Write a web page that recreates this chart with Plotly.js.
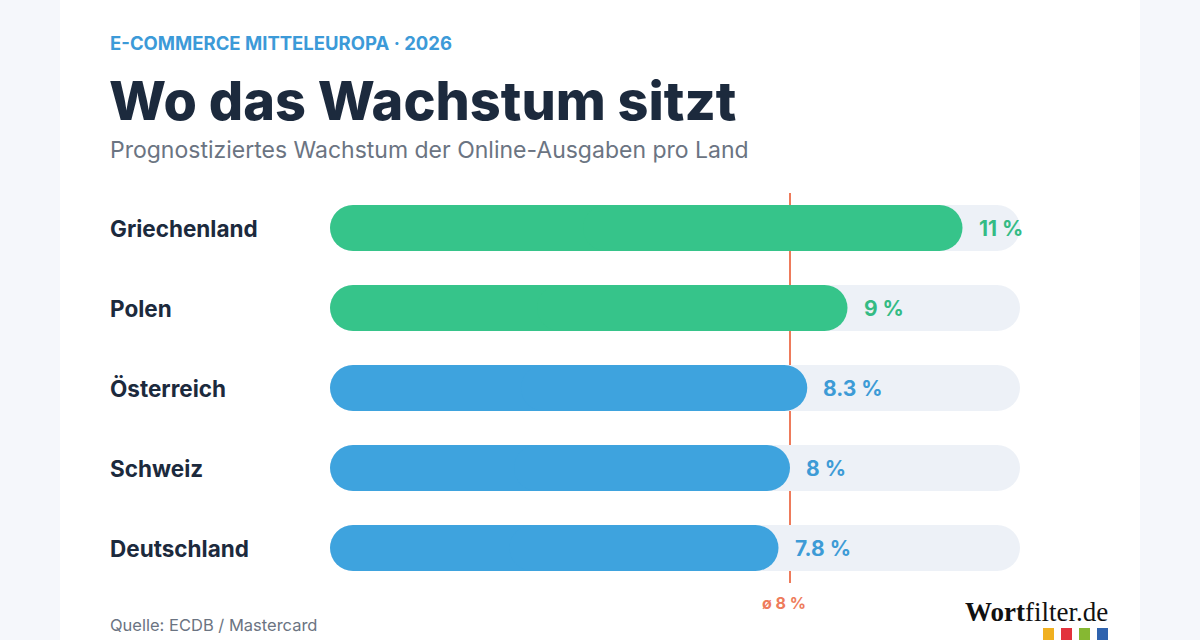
<!DOCTYPE html>
<html lang="de">
<head>
<meta charset="utf-8">
<title>Wo das Wachstum sitzt</title>
<script src="https://cdn.plot.ly/plotly-3.0.1.min.js"></script>
<style>
  html, body { margin: 0; padding: 0; }
  body { width: 1200px; height: 640px; background: #f5f7fb; position: relative; overflow: hidden; }
  #card { position: absolute; left: 60px; top: -14px; width: 1080px; height: 680px; background: #ffffff; border-radius: 16px; }
  #chart { position: absolute; left: 0; top: 0; width: 1200px; height: 640px; }
</style>
</head>
<body>
<div id="card"></div>
<div id="chart"></div>
<script>
// Prognostiziertes Wachstum der Online-Ausgaben 2026 (in %)
const countries = ['Griechenland', 'Polen', 'Österreich', 'Schweiz', 'Deutschland'];
const growth = [11, 9, 8.3, 8, 7.8];
const valueLabels = ['11 %', '9 %', '8.3 %', '8 %', '7.8 %'];
const leaders = ['Griechenland', 'Polen'];
const average = 8;
const averageLabel = 'ø 8 %';
const scaleMax = 12;

const GREEN = '#36c48a';
const BLUE = '#3ea3de';
const TRACK = '#edf1f7';
const INK = '#1c2a3d';
const GREY = '#6b7482';
const ORANGE = '#ee7b5b';
const FONT = 'Inter, "Open Sans", sans-serif';

const barColors = countries.map(c => (leaders.includes(c) ? GREEN : BLUE));
const labelColors = countries.map(c => (leaders.includes(c) ? '#34bb84' : '#3d9bd6'));

// A pill is built from two overlapping halves: each half has its rounded
// corners at its far end, so together both ends are rounded.
function pill(values, colors) {
  const common = {
    type: 'bar', orientation: 'h', y: countries, width: 0.575,
    marker: { color: colors, cornerradius: 23, line: { width: 0 } },
    hoverinfo: 'skip', showlegend: false
  };
  return [
    Object.assign({}, common, { base: values.map(v => v * 0.6), x: values.map(v => -v * 0.6) }),
    Object.assign({}, common, { base: values.map(v => v * 0.4), x: values.map(v => v * 0.6) })
  ];
}

const tracks = pill(countries.map(() => scaleMax), countries.map(() => TRACK));
const bars = pill(growth, barColors);

const LEFT = -222;
const annotations = [];
countries.forEach((c, i) => {
  annotations.push({
    x: 0, xref: 'paper', xshift: LEFT, xanchor: 'left',
    y: c, yref: 'y', yanchor: 'middle',
    text: c, showarrow: false,
    font: { family: FONT, size: 22.5, color: INK, weight: 700 }
  });
  annotations.push({
    x: growth[i], xref: 'x', xshift: 14, xanchor: 'left',
    y: c, yref: 'y', yanchor: 'middle',
    text: valueLabels[i], showarrow: false,
    font: { family: FONT, size: 21, color: labelColors[i], weight: 700 }
  });
});

// Header, footer and logo
annotations.push(
  { x: 0, xref: 'paper', xshift: LEFT, xanchor: 'left', y: 1, yref: 'paper', yshift: 145, yanchor: 'middle',
    text: 'E-COMMERCE MITTELEUROPA · 2026', showarrow: false,
    font: { family: FONT, size: 18.5, color: '#3c9ad8', weight: 700 } },
  { x: 0, xref: 'paper', xshift: LEFT - 1, xanchor: 'left', y: 1, yref: 'paper', yshift: 88, yanchor: 'middle',
    text: 'Wo das Wachstum sitzt', showarrow: false,
    font: { family: FONT, size: 54, color: INK, weight: 800 } },
  { x: 0, xref: 'paper', xshift: LEFT, xanchor: 'left', y: 1, yref: 'paper', yshift: 38, yanchor: 'middle',
    text: 'Prognostiziertes Wachstum der Online-Ausgaben pro Land', showarrow: false,
    font: { family: FONT, size: 23, color: GREY, weight: 400 } },
  { x: 0, xref: 'paper', xshift: LEFT, xanchor: 'left', y: 0, yref: 'paper', yshift: -37, yanchor: 'middle',
    text: 'Quelle: ECDB / Mastercard', showarrow: false,
    font: { family: FONT, size: 16.5, color: GREY, weight: 400 } },
  { x: average, xref: 'x', xanchor: 'center', xshift: -6, y: 0, yref: 'paper', yshift: -15, yanchor: 'middle',
    text: averageLabel, showarrow: false,
    font: { family: FONT, size: 16, color: ORANGE, weight: 700 } },
  { x: 1, xref: 'paper', xshift: 90, xanchor: 'right', y: 0, yref: 'paper', yshift: -24, yanchor: 'middle',
    text: '<b>Wort</b>filter.de', showarrow: false,
    font: { family: '"Liberation Serif", "DejaVu Serif", serif', size: 27, color: '#111111' } }
);

const logoColors = ['#f0b020', '#e2323c', '#86b832', '#2f63ae'];
const shapes = [
  { type: 'line', layer: 'below', xref: 'x', yref: 'paper',
    x0: average, x1: average, y0: 0.0125, y1: 0.9875,
    line: { color: ORANGE, width: 2 } }
];
logoColors.forEach((col, i) => {
  shapes.push({
    type: 'rect', xref: 'paper', yref: 'paper', xsizemode: 'pixel', ysizemode: 'pixel',
    xanchor: 1, yanchor: 0,
    x0: 23 + i * 18, x1: 34 + i * 18, y0: -40, y1: -52,
    fillcolor: col, line: { width: 0 }
  });
});

const layout = {
  width: 1200, height: 640,
  margin: { l: 330, r: 180, t: 188, b: 52 },
  paper_bgcolor: 'rgba(0,0,0,0)',
  plot_bgcolor: 'rgba(0,0,0,0)',
  barmode: 'overlay',
  xaxis: { range: [0, scaleMax], visible: false, fixedrange: true },
  yaxis: { type: 'category', autorange: 'reversed', visible: false, fixedrange: true },
  annotations: annotations,
  shapes: shapes,
  showlegend: false
};

Plotly.newPlot('chart', tracks.concat(bars), layout, { staticPlot: true, displayModeBar: false });
</script>
</body>
</html>
